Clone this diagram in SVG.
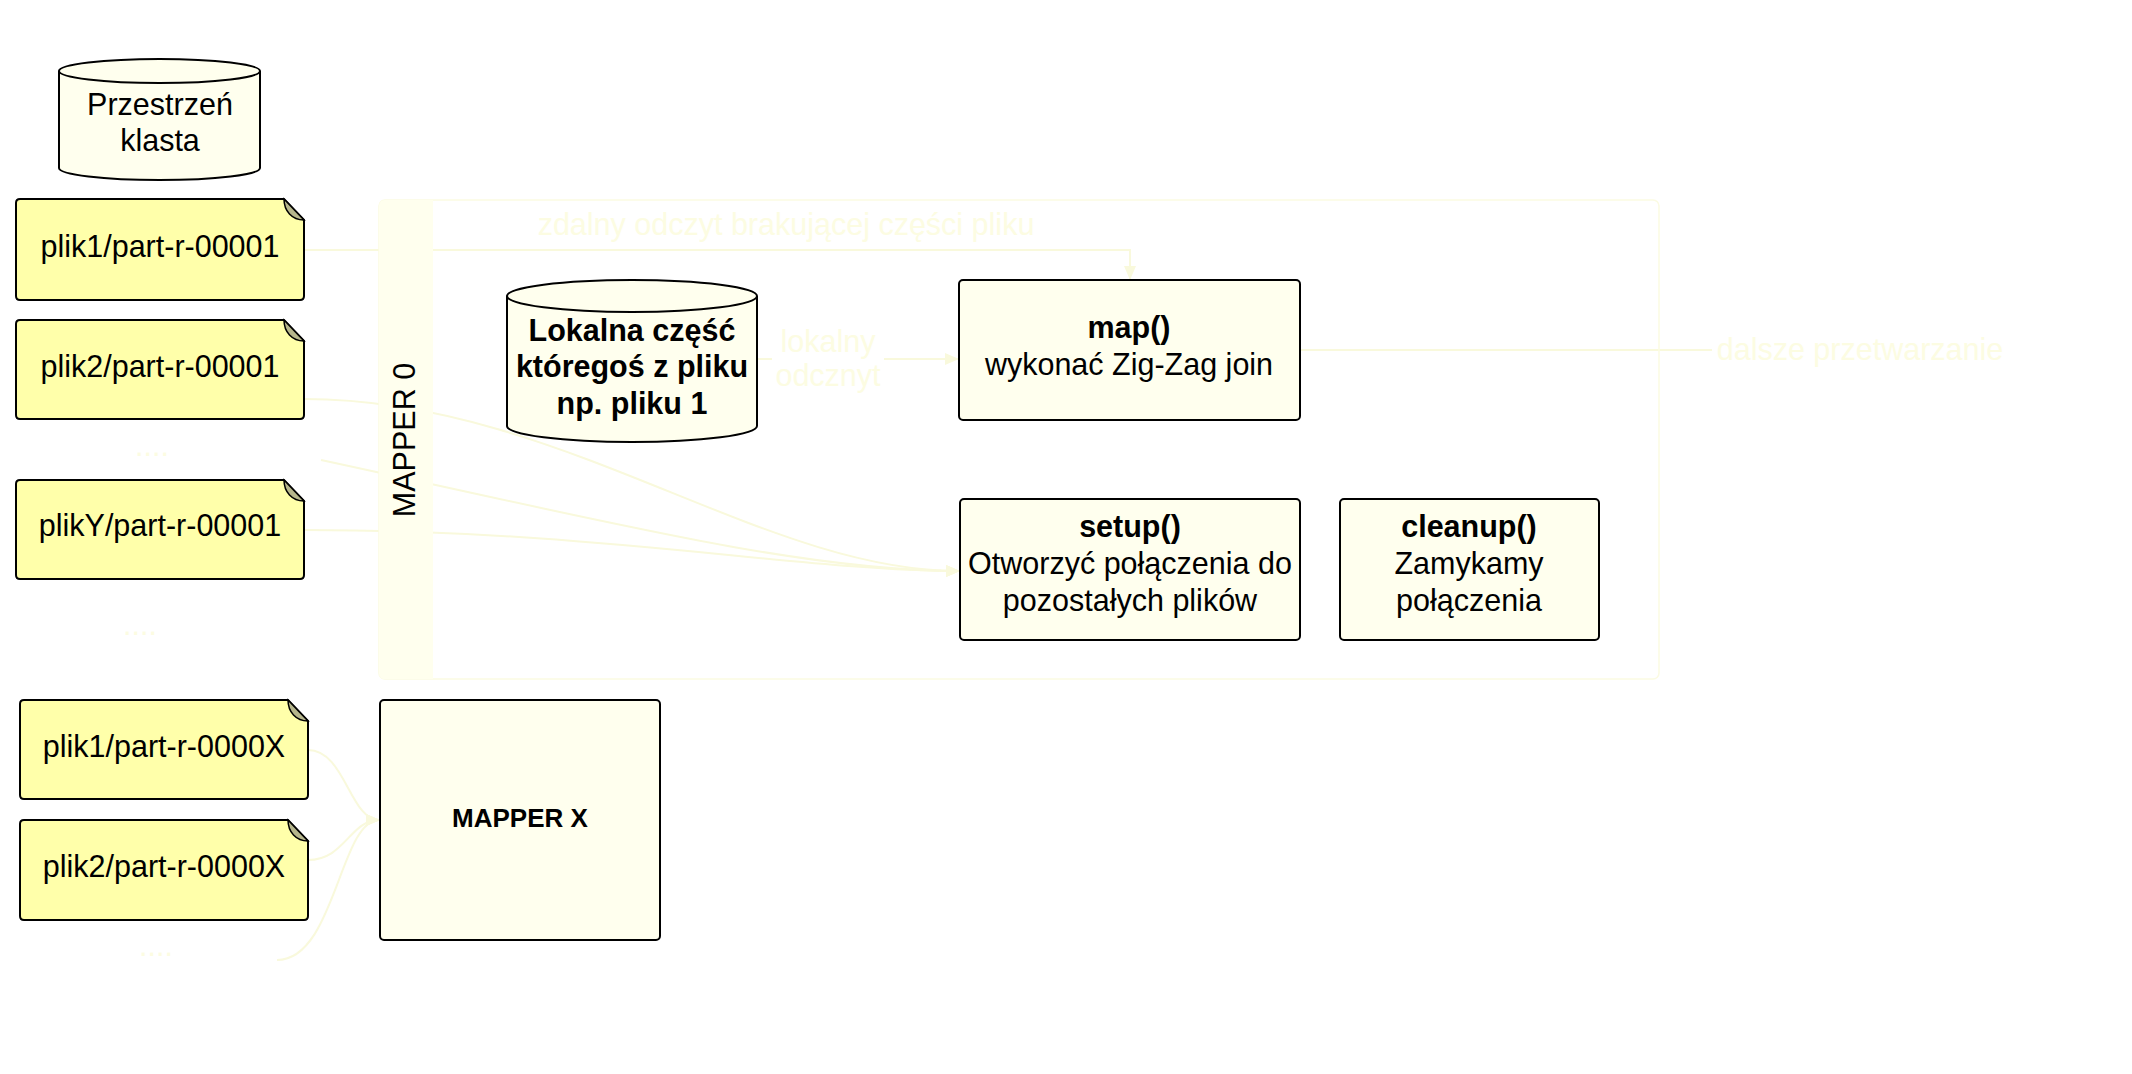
<svg xmlns="http://www.w3.org/2000/svg" width="2132" height="1074" viewBox="0 0 2132 1074">
<style>
text{font-family:"Liberation Sans",Arial,sans-serif;font-size:30.5px;fill:#000;text-anchor:middle}
.b{font-weight:bold}
.faint{fill:#fcfce2}
.note{fill:#ffffaa;stroke:#000;stroke-width:2}
.fold{fill:#b6b68c;stroke:#000;stroke-width:1.5}
.box{fill:#ffffee;stroke:#000;stroke-width:2}
.conn{fill:none;stroke:#f9f9dc;stroke-width:2}
</style>
<defs>
<marker id="arr" markerWidth="14" markerHeight="12" refX="13" refY="6" orient="auto" markerUnits="userSpaceOnUse">
<path d="M0,0 L14,6 L0,12 Z" fill="#f9f9dc"/>
</marker>
</defs>
<rect width="2132" height="1074" fill="#fff"/>

<g id="connectors">
<path class="conn" d="M304,250 H1130 V279" marker-end="url(#arr)"/>
<path class="conn" d="M757,359 H958" marker-end="url(#arr)"/>
<path class="conn" d="M1300,350 H1712"/>
<path class="conn" d="M304,399 C560,399 760,571 959,571" marker-end="url(#arr)"/>
<path class="conn" d="M321,460 C600,520 800,571 959,571" marker-end="url(#arr)"/>
<path class="conn" d="M304,530 C600,530 800,571 959,571" marker-end="url(#arr)"/>
<path class="conn" d="M308,750 C345,750 350,820 379,820" marker-end="url(#arr)"/>
<path class="conn" d="M308,860 C345,860 350,820 379,820" marker-end="url(#arr)"/>
<path class="conn" d="M277,960 C335,960 340,820 379,820" marker-end="url(#arr)"/>
<text class="faint" x="786" y="235">zdalny odczyt brakującej części pliku</text>
<rect x="772" y="330" width="112" height="64" fill="#fff"/>
<text class="faint" x="828" y="352">lokalny</text>
<text class="faint" x="828" y="386">odcznyt</text>
<text class="faint" x="1860" y="360">dalsze przetwarzanie</text>
</g>

<g id="mapper0">
<rect x="379" y="200" width="1280" height="479" rx="6" fill="none" stroke="#fbfbe2" stroke-width="1.5"/>
<path d="M385,200 H433 V679 H385 Q379,679 379,673 V206 Q379,200 385,200 Z" fill="#ffffee"/>
<text transform="translate(415,440) rotate(-90)">MAPPER 0</text>
</g>

<g id="przestrzen">
<path class="box" d="M59,71 A100.5,12 0 0 1 260,71 V168 A100.5,12 0 0 1 59,168 Z"/>
<path fill="none" stroke="#000" stroke-width="2" d="M59,71 A100.5,12 0 0 0 260,71"/>
<text x="160" y="115">Przestrzeń</text>
<text x="160" y="151">klasta</text>
</g>

<g id="plik1-00001">
<path class="note" d="M20,199 H284 L304,220 V296 Q304,300 300,300 H20 Q16,300 16,296 V203 Q16,199 20,199 Z"/>
<path class="fold" d="M284,199 C284,211 292,220 304,220 Z"/>
<text x="160" y="257">plik1/part-r-00001</text>
</g>
<g id="plik2-00001">
<path class="note" d="M20,320 H284 L304,341 V415 Q304,419 300,419 H20 Q16,419 16,415 V324 Q16,320 20,320 Z"/>
<path class="fold" d="M284,320 C284,332 292,341 304,341 Z"/>
<text x="160" y="377">plik2/part-r-00001</text>
</g>
<g id="dots1"><text class="faint" x="152" y="456">....</text></g>
<g id="plikY-00001">
<path class="note" d="M20,480 H284 L304,501 V575 Q304,579 300,579 H20 Q16,579 16,575 V484 Q16,480 20,480 Z"/>
<path class="fold" d="M284,480 C284,492 292,501 304,501 Z"/>
<text x="160" y="536">plikY/part-r-00001</text>
</g>
<g id="dots2"><text class="faint" x="140" y="635">....</text></g>

<g id="lokalna">
<path class="box" d="M507,296 A125,16 0 0 1 757,296 V426 A125,16 0 0 1 507,426 Z"/>
<path fill="none" stroke="#000" stroke-width="2" d="M507,296 A125,16 0 0 0 757,296"/>
<text class="b" x="632" y="341">Lokalna część</text>
<text class="b" x="632" y="377">któregoś z pliku</text>
<text class="b" x="632" y="414">np. pliku 1</text>
</g>

<g id="map">
<rect class="box" x="959" y="280" width="341" height="140" rx="4"/>
<text class="b" x="1129" y="338">map()</text>
<text x="1129" y="375">wykonać Zig-Zag join</text>
</g>

<g id="setup">
<rect class="box" x="960" y="499" width="340" height="141" rx="4"/>
<text class="b" x="1130" y="537">setup()</text>
<text x="1130" y="574">Otworzyć połączenia do</text>
<text x="1130" y="611">pozostałych plików</text>
</g>

<g id="cleanup">
<rect class="box" x="1340" y="499" width="259" height="141" rx="4"/>
<text class="b" x="1469" y="537">cleanup()</text>
<text x="1469" y="574">Zamykamy</text>
<text x="1469" y="611">połączenia</text>
</g>

<g id="plik1-0000X">
<path class="note" d="M24,700 H288 L308,721 V795 Q308,799 304,799 H24 Q20,799 20,795 V704 Q20,700 24,700 Z"/>
<path class="fold" d="M288,700 C288,712 296,721 308,721 Z"/>
<text x="164" y="757">plik1/part-r-0000X</text>
</g>
<g id="plik2-0000X">
<path class="note" d="M24,820 H288 L308,841 V916 Q308,920 304,920 H24 Q20,920 20,916 V824 Q20,820 24,820 Z"/>
<path class="fold" d="M288,820 C288,832 296,841 308,841 Z"/>
<text x="164" y="877">plik2/part-r-0000X</text>
</g>
<g id="dots3"><text class="faint" x="156" y="956">....</text></g>

<g id="mapperX">
<rect class="box" x="380" y="700" width="280" height="240" rx="4"/>
<text class="b" x="520" y="827" style="font-size:26px">MAPPER X</text>
</g>
</svg>
